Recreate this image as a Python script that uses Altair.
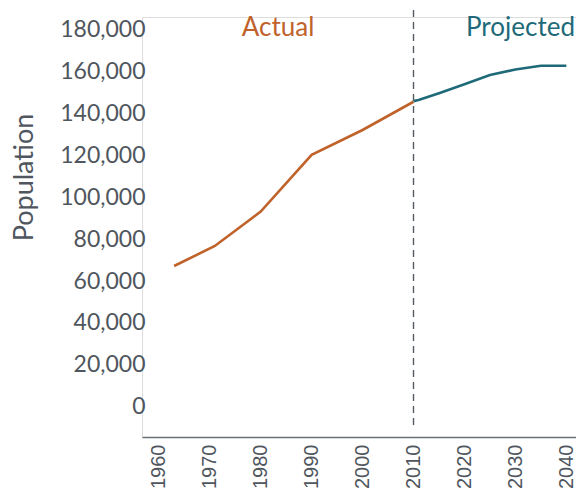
import altair as alt
import pandas as pd

actual_years = [1963, 1971, 1980, 1990, 2000, 2010]
actual_pop = [67200, 76800, 93200, 120300, 132200, 145700]

proj_years = [2010, 2011, 2015, 2020, 2025, 2030, 2035, 2040]
proj_pop = [146000, 146500, 149800, 154100, 158500, 161100, 162900, 162900]

y_ticks = [0, 20000, 40000, 60000, 80000, 100000, 120000, 140000, 160000, 180000]
x_ticks = [1960, 1970, 1980, 1990, 2000, 2010, 2020, 2030, 2040]

labels = ["Actual", "Projected"]
label_years = [1983.4, 2031.0]
label_y = [180900, 180900]

split_year = [2010]
split_top = [189500]
split_bottom = [-10200]

ORANGE = "#c0632b"
TEAL = "#1f6a79"
GRAY = "#4f565e"

actual_df = pd.DataFrame({"year": actual_years, "pop": actual_pop})
proj_df = pd.DataFrame({"year": proj_years, "pop": proj_pop})
lab_df = pd.DataFrame({"label": labels, "year": label_years, "pop": label_y})
rule_df = pd.DataFrame({"year": split_year, "top": split_top, "bottom": split_bottom})

xscale = alt.Scale(domain=[1956.7, 2041.9], nice=False, zero=False)
yscale = alt.Scale(domain=[-14500, 186200], nice=False, zero=False)

xaxis = alt.Axis(values=x_ticks, format="d", labelAngle=-90, ticks=False, tickSize=0,
                 grid=False, domainColor="#6a7078", domainWidth=1.6,
                 labelFont="Liberation Sans", labelFontSize=20, labelColor=GRAY,
                 labelPadding=7, title=None)
yaxis = alt.Axis(values=y_ticks, format=",d", ticks=False, tickSize=0, domain=False,
                 grid=False, labelFont="Lato", labelFontSize=23, labelColor=GRAY,
                 labelPadding=-3, title="Population", titleFont="Lato",
                 titleFontSize=27, titleFontWeight="normal", titleColor=GRAY,
                 titleAngle=-90, titleAlign="center", titleBaseline="middle",
                 titleX=-118, titleY=160)

actual = alt.Chart(actual_df).mark_line(color=ORANGE, strokeWidth=2.6).encode(
    x=alt.X("year:Q", scale=xscale, axis=xaxis),
    y=alt.Y("pop:Q", scale=yscale, axis=yaxis))
proj = alt.Chart(proj_df).mark_line(color=TEAL, strokeWidth=2.6).encode(
    x=alt.X("year:Q", scale=xscale), y=alt.Y("pop:Q", scale=yscale))

rule = alt.Chart(rule_df).mark_rule(color="#555b62", strokeWidth=1.4,
                                    strokeDash=[7, 5], clip=False).encode(
    x=alt.X("year:Q", scale=xscale),
    y=alt.Y("top:Q", scale=yscale),
    y2="bottom:Q")

text = alt.Chart(lab_df).mark_text(font="Lato", fontSize=26, align="center",
                                   baseline="middle", clip=False).encode(
    x=alt.X("year:Q", scale=xscale),
    y=alt.Y("pop:Q", scale=yscale),
    text="label:N",
    color=alt.Color("label:N", scale=alt.Scale(domain=labels, range=[ORANGE, TEAL]), legend=None))

chart = alt.layer(actual, proj, rule, text).properties(
    width=434, height=420,
    autosize=alt.AutoSizeParams(type="none"),
    padding={"left": 134, "top": 9, "right": 0, "bottom": 51},
).configure_view(stroke=None).configure(background="white")

chart.save("out.html", embed_options={"renderer": "svg", "actions": False})
